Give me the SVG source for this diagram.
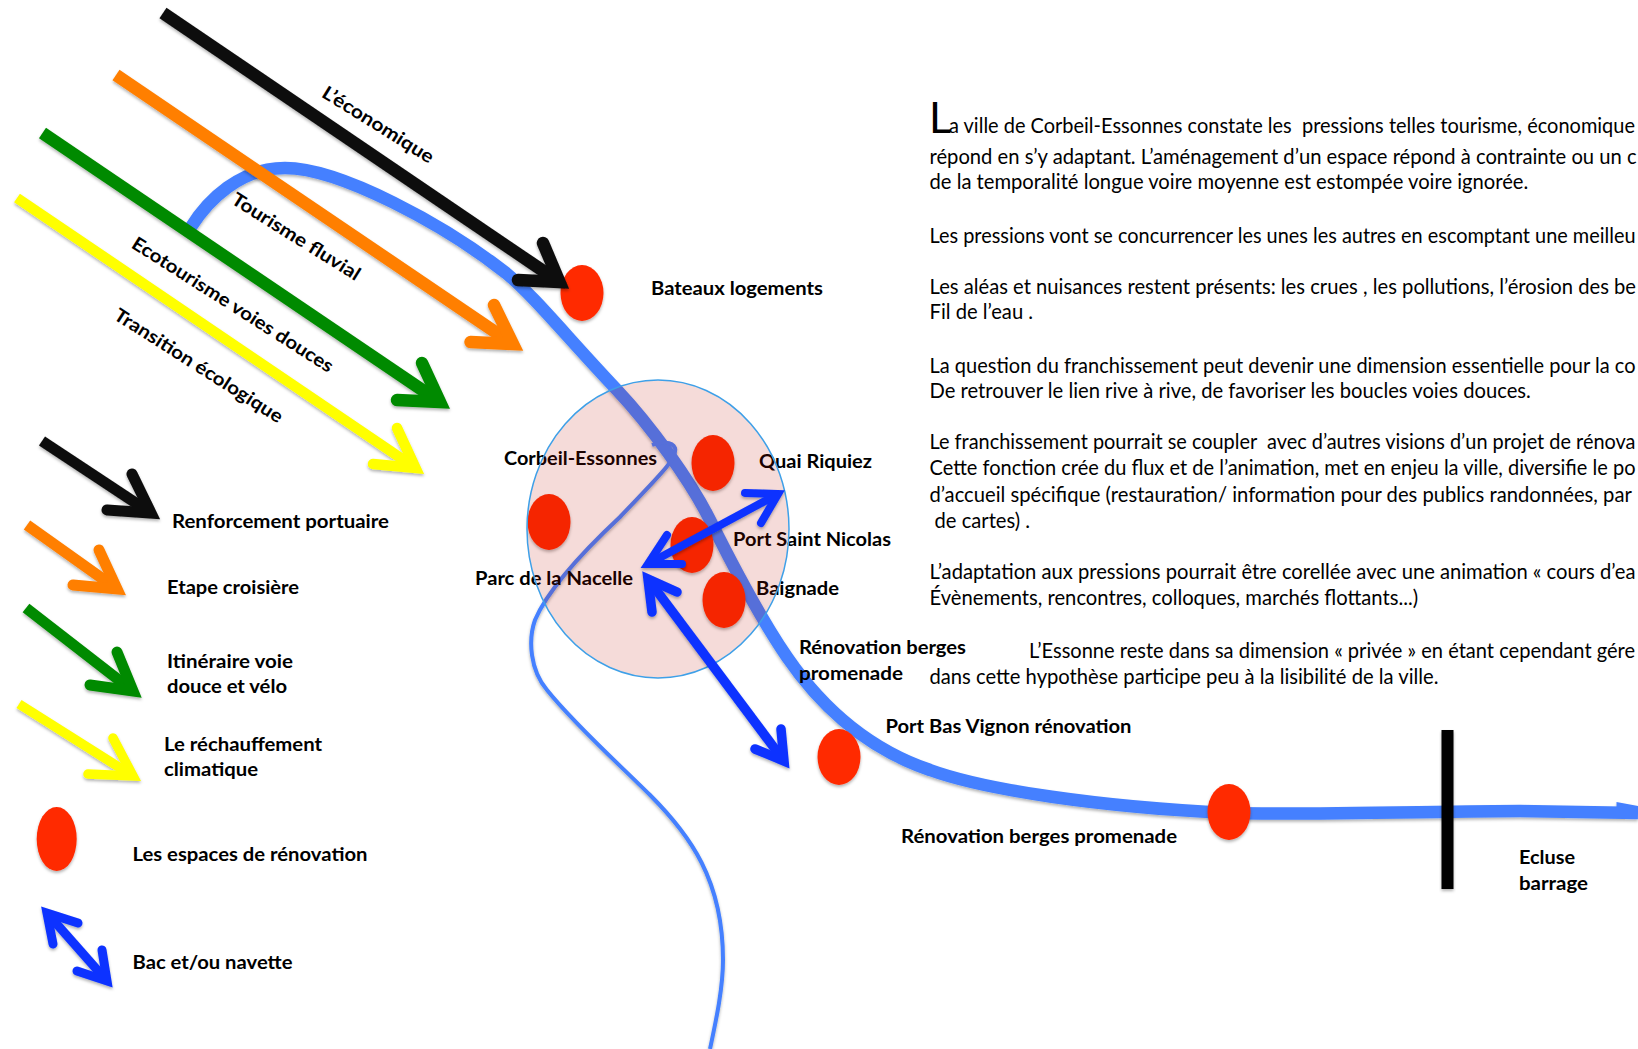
<svg xmlns="http://www.w3.org/2000/svg" width="1638" height="1049" viewBox="0 0 1638 1049">
<defs>
<filter id="sh" x="-20%" y="-20%" width="140%" height="140%"><feDropShadow dx="0" dy="2" stdDeviation="1.6" flood-color="#000" flood-opacity="0.3"/></filter>
</defs>
<style>
text{font-family:Lato,"Liberation Sans",sans-serif;fill:#000}
.b{font-weight:700;font-size:18.6px}
.t{font-size:20.2px;white-space:pre}
.cap{font-size:43px;font-weight:400}
.sp{fill:#ff2a00;filter:url(#sh)}
.ln{fill:none;stroke-linecap:butt;stroke-linejoin:miter;stroke-miterlimit:6}
.hd{fill:none;stroke-linecap:round;stroke-linejoin:miter;stroke-miterlimit:6}
.k{stroke:#0d0d0d}.o{stroke:#ff7f00}.g{stroke:#008a00}.y{stroke:#ffff00}.u{stroke:#0a32ff}
.a{filter:url(#sh)}
</style>
<rect width="1638" height="1049" fill="#fff"/>
<g id="river" class="a">
<path d="M191,227 C208,200 240,168 285,168 C340,168 445,225 506,273 C535,297 565,335 617,390 C650,425 690,480 710,520 C735,570 765,625 787,657 C820,705 865,748 930,770 C985,790 1100,807 1229,813 C1300,815 1450,811 1520,811 L1638,813" fill="none" stroke="#4480ff" stroke-width="12.5"/>
<path d="M1616.5,802 L1638,806 L1638,812 L1616.5,812Z" fill="#4480ff"/>
<path d="M652,445 C660,442 672,441 675,448 C678,458 660,475 620,517 C590,545 550,585 535,620 C528,640 530,670 547,690 C575,725 620,765 650,795 C690,835 723,880 723,960 C723,990 715,1025 710,1049" fill="none" stroke="#4480ff" stroke-width="4"/>
</g>
<g id="node-spots">
<ellipse id="spot-bateaux" class="sp" cx="582" cy="293" rx="21.5" ry="28"/>
<ellipse id="spot-quai" class="sp" cx="713" cy="463" rx="21.5" ry="28"/>
<ellipse id="spot-parc" class="sp" cx="549" cy="522" rx="21.5" ry="28"/>
<ellipse id="spot-port" class="sp" cx="692" cy="545" rx="21.5" ry="28"/>
<ellipse id="spot-baignade" class="sp" cx="724" cy="600" rx="21.5" ry="28"/>
<ellipse id="spot-vignon" class="sp" cx="839" cy="757" rx="21.5" ry="28"/>
<ellipse id="spot-berges" class="sp" cx="1229" cy="812" rx="21.5" ry="28"/>
<ellipse id="spot-legend" class="sp" cx="56.7" cy="839" rx="20" ry="32"/>
</g>
<g id="labels-zone">
<text class="b" x="504" y="464.500" textLength="153" lengthAdjust="spacingAndGlyphs">Corbeil-Essonnes</text>
<text class="b" x="759" y="467.500" textLength="113" lengthAdjust="spacingAndGlyphs">Quai Riquiez</text>
<text class="b" x="733" y="546" textLength="158" lengthAdjust="spacingAndGlyphs">Port Saint Nicolas</text>
<text class="b" x="475" y="585" textLength="158" lengthAdjust="spacingAndGlyphs">Parc de la Nacelle</text>
<text class="b" x="756" y="595" textLength="83" lengthAdjust="spacingAndGlyphs">Baignade</text>
</g>
<g id="zone"><ellipse cx="658" cy="529" rx="131" ry="149" fill="#bb0d00" fill-opacity="0.15" stroke="#3ea0e8" stroke-width="1.5"/></g>
<g id="connectors">
<g class="a">
<path class="ln k" stroke-width="12.5" d="M163,13 L559.5,282"/><path class="hd k" stroke-width="12.5" d="M543,243 L559.5,282 L518,280"/>
</g>
<g class="a">
<path class="ln o" stroke-width="12.5" d="M116,75 L513,344"/><path class="hd o" stroke-width="12.5" d="M494,305 L513,344 L470.5,342"/>
</g>
<g class="a">
<path class="ln g" stroke-width="12.5" d="M42.500,133 L440,402"/><path class="hd g" stroke-width="12.5" d="M422,363 L440,402 L397,400"/>
</g>
<g class="a">
<path class="ln y" stroke-width="10.500" d="M17,198 L415.5,468"/><path class="hd y" stroke-width="10.500" d="M397,428 L415.5,468 L373,464"/>
</g>
<g class="a">
<path class="ln k" stroke-width="11" d="M42,441 L151,513"/><path class="hd k" stroke-width="11" d="M132,474 L151,513 L107,510"/>
</g>
<g class="a">
<path class="ln o" stroke-width="11" d="M27,525 L117,589"/><path class="hd o" stroke-width="11" d="M99,550 L117,589 L73,585"/>
</g>
<g class="a">
<path class="ln g" stroke-width="11" d="M26,608 L133,691"/><path class="hd g" stroke-width="11" d="M117,652 L133,691 L90,685"/>
</g>
<g class="a">
<path class="ln y" stroke-width="9.500" d="M19,704 L133,776"/><path class="hd y" stroke-width="9.500" d="M113,738 L133,776 L88,774"/>
</g>
<g class="a">
<path class="ln u" stroke-width="9" d="M47,913 L107,981"/><path class="hd u" stroke-width="9" d="M78,923 L47,913 L53,944"/><path class="hd u" stroke-width="9" d="M102,950 L107,981 L77,971"/>
</g>
<g class="a">
<path class="ln u" stroke-width="8" d="M648,564 L778,494"/><path class="hd u" stroke-width="8" d="M745,493 L778,494 L761,523"/><path class="hd u" stroke-width="8" d="M667,535 L648,564 L682,564"/>
</g>
<g class="a">
<path class="ln u" stroke-width="9.500" d="M648,579 L784,761"/><path class="hd u" stroke-width="9.500" d="M677,592 L648,579 L652,612"/><path class="hd u" stroke-width="9.500" d="M781,729 L784,761 L755,749"/>
</g>
</g>
<g id="barrage"><rect x="1441.5" y="730" width="12" height="159" fill="#000" filter="url(#sh)"/></g>
<g id="labels-map">
<text class="b" text-anchor="middle" transform="rotate(32 378 125)" x="378" y="131" textLength="128" lengthAdjust="spacingAndGlyphs">L’économique</text>
<text class="b" text-anchor="middle" transform="rotate(32 296 237)" x="296" y="243" textLength="148" lengthAdjust="spacingAndGlyphs">Tourisme fluvial</text>
<text class="b" text-anchor="middle" transform="rotate(32.5 232.500 305)" x="232.500" y="311" textLength="235" lengthAdjust="spacingAndGlyphs">Ecotourisme voies douces</text>
<text class="b" text-anchor="middle" transform="rotate(32.5 198.500 366)" x="198.500" y="372" textLength="196" lengthAdjust="spacingAndGlyphs">Transition écologique</text>
<text class="b" x="651" y="295" textLength="172" lengthAdjust="spacingAndGlyphs">Bateaux logements</text>
<text class="b" x="799" y="653.500" textLength="167" lengthAdjust="spacingAndGlyphs">Rénovation berges</text>
<text class="b" x="799" y="679.500" textLength="104" lengthAdjust="spacingAndGlyphs">promenade</text>
<text class="b" x="885.500" y="732.500" textLength="246" lengthAdjust="spacingAndGlyphs">Port Bas Vignon rénovation</text>
<text class="b" x="901" y="842.500" textLength="276" lengthAdjust="spacingAndGlyphs">Rénovation berges promenade</text>
<text class="b" x="1519" y="864" textLength="56" lengthAdjust="spacingAndGlyphs">Ecluse</text>
<text class="b" x="1519" y="890" textLength="69" lengthAdjust="spacingAndGlyphs">barrage</text>
</g>
<g id="legend">
<text class="b" x="172" y="527.500" textLength="217" lengthAdjust="spacingAndGlyphs">Renforcement portuaire</text>
<text class="b" x="167" y="593.500" textLength="132" lengthAdjust="spacingAndGlyphs">Etape croisière</text>
<text class="b" x="167" y="667.500" textLength="126" lengthAdjust="spacingAndGlyphs">Itinéraire voie</text>
<text class="b" x="167" y="692.500" textLength="120" lengthAdjust="spacingAndGlyphs">douce et vélo</text>
<text class="b" x="164" y="751" textLength="158" lengthAdjust="spacingAndGlyphs">Le réchauffement</text>
<text class="b" x="164" y="776" textLength="94" lengthAdjust="spacingAndGlyphs">climatique</text>
<text class="b" x="132.500" y="861" textLength="235" lengthAdjust="spacingAndGlyphs">Les espaces de rénovation</text>
<text class="b" x="132.500" y="969" textLength="160" lengthAdjust="spacingAndGlyphs">Bac et/ou navette</text>
</g>
<g id="body">
<text class="cap" x="929" y="132.700">L</text>
<text class="t" x="949" y="132.700" textLength="686" lengthAdjust="spacingAndGlyphs">a ville de Corbeil-Essonnes constate les  pressions telles tourisme, économique</text>
<text class="t" x="929.500" y="163.700">répond en s’y adaptant. L’aménagement d’un espace répond à contrainte ou un c</text>
<text class="t" x="929.500" y="188.700">de la temporalité longue voire moyenne est estompée voire ignorée.</text>
<text class="t" x="929.500" y="242.700" textLength="706" lengthAdjust="spacingAndGlyphs">Les pressions vont se concurrencer les unes les autres en escomptant une meilleu</text>
<text class="t" x="929.500" y="293.700">Les aléas et nuisances restent présents: les crues , les pollutions, l’érosion des be</text>
<text class="t" x="929.500" y="318.700">Fil de l’eau .</text>
<text class="t" x="929.500" y="372.700" textLength="706" lengthAdjust="spacingAndGlyphs">La question du franchissement peut devenir une dimension essentielle pour la co</text>
<text class="t" x="929.500" y="397.700">De retrouver le lien rive à rive, de favoriser les boucles voies douces.</text>
<text class="t" x="929.500" y="448.700" textLength="706" lengthAdjust="spacingAndGlyphs">Le franchissement pourrait se coupler  avec d’autres visions d’un projet de rénova</text>
<text class="t" x="929.500" y="474.700" textLength="706" lengthAdjust="spacingAndGlyphs">Cette fonction crée du flux et de l’animation, met en enjeu la ville, diversifie le po</text>
<text class="t" x="929.500" y="501.700">d’accueil spécifique (restauration/ information pour des publics randonnées, par</text>
<text class="t" x="934.500" y="527.700">de cartes) .</text>
<text class="t" x="929.500" y="578.700" textLength="706" lengthAdjust="spacingAndGlyphs">L’adaptation aux pressions pourrait être corellée avec une animation « cours d’ea</text>
<text class="t" x="929.500" y="604.700">Évènements, rencontres, colloques, marchés flottants...)</text>
<text class="t" x="1029" y="657.700" textLength="606" lengthAdjust="spacingAndGlyphs">L’Essonne reste dans sa dimension « privée » en étant cependant gére</text>
<text class="t" x="929.500" y="683.700">dans cette hypothèse participe peu à la lisibilité de la ville.</text>
</g>
</svg>
